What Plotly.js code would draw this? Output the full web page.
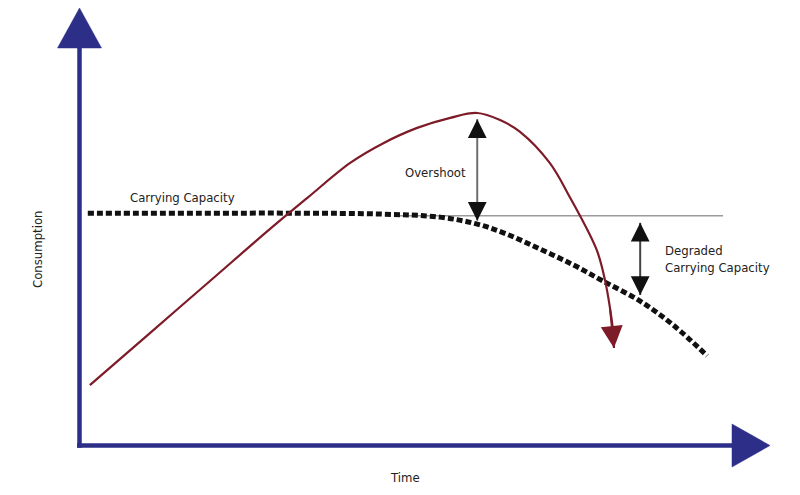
<!DOCTYPE html>
<html>
<head>
<meta charset="utf-8">
<script src="https://cdn.plot.ly/plotly-3.0.1.min.js"></script>
<style>html,body{margin:0;padding:0;background:#fff}#chart{width:800px;height:495px}</style>
</head>
<body>
<div id="chart"></div>
<script>
// Consumption curve (time, consumption)
var consumptionTime  = [1.5, 10.2, 18.9, 27.6, 33.0, 39.2, 44.0, 48.9, 53.7, 57.6, 60.9, 63.8, 68.1, 71.0, 74.9, 76.1, 76.8, 77.3, 77.4];
var consumptionValue = [13.8, 25.7, 37.6, 49.5, 56.6, 64.6, 69.1, 72.6, 74.9, 76.0, 74.4, 71.7, 64.6, 56.8, 44.7, 37.8, 31.7, 25.7, 22.3];

// Carrying capacity (time, capacity)
var capacityTime  = [1.2, 17.5, 31.9, 43.5, 52.2, 57.6, 61.9, 66.7, 71.5, 75.8, 81.2, 86.0, 90.9];
var capacityValue = [53.1, 53.1, 53.1, 52.9, 52.2, 50.6, 48.3, 44.9, 41.3, 37.6, 33.0, 27.5, 20.5];

// Original capacity reference level
var referenceTime  = [46.4, 93.2];
var referenceValue = [52.5, 52.5];

// Gap markers
var overshootTime = 57.6, overshootTop = 74.6, overshootBottom = 51.4;
var degradedTime = 81.2, degradedTop = 50.9, degradedBottom = 34.4;

// Labels
var axisLabels = {x: 'Time', y: 'Consumption'};
var labelCapacity = 'Carrying Capacity';
var labelOvershoot = 'Overshoot';
var labelDegraded = 'Degraded<br>Carrying Capacity';

var NAVY = '#2d2e88';
var RED = '#7d1b28';
var FONT = '"DejaVu Sans Condensed", "Liberation Sans Narrow", sans-serif';
var TXT = {family: FONT, size: 13, color: '#222'};

var traces = [
  {x: referenceTime, y: referenceValue, mode: 'lines', line: {color: '#9a9a9a', width: 1.5}, hoverinfo: 'skip'},
  {x: [overshootTime, overshootTime], y: [overshootTop, overshootBottom], mode: 'lines', line: {color: '#6e6e6e', width: 2}, hoverinfo: 'skip'},
  {x: [degradedTime, degradedTime], y: [degradedTop, degradedBottom], mode: 'lines', line: {color: '#444', width: 2}, hoverinfo: 'skip'},
  {x: capacityTime, y: capacityValue, mode: 'lines', line: {color: '#111', width: 5, dash: '6px,3px', shape: 'spline', smoothing: 1}, hoverinfo: 'skip'},
  {x: consumptionTime, y: consumptionValue, mode: 'lines', line: {color: RED, width: 2.2, shape: 'spline', smoothing: 1}, hoverinfo: 'skip'}
];

function head(x, y, ay) {
  return {x: x, y: y, xref: 'x', yref: 'y', ax: 0, ay: ay, text: '', showarrow: true,
          arrowhead: 2, arrowwidth: 1.5, arrowsize: 2.5, arrowcolor: '#111'};
}

var n = consumptionTime.length;
var annotations = [
  {x: consumptionTime[n-1], y: consumptionValue[n-1], ax: consumptionTime[n-3], ay: consumptionValue[n-3], axref: 'x', ayref: 'y', xref: 'x', yref: 'y', text: '', showarrow: true, arrowhead: 2, arrowwidth: 2, arrowsize: 2.2, arrowcolor: RED},
  head(overshootTime, overshootTop, 20),
  head(overshootTime, overshootBottom, -20),
  head(degradedTime, degradedTop, 20),
  head(degradedTime, degradedBottom, -20),
  {x: 14.85, y: 56.8, text: labelCapacity, showarrow: false, font: TXT},
  {x: 51.6, y: 62.5, text: labelOvershoot, showarrow: false, font: TXT},
  {x: 84.5, y: 42.6, text: labelDegraded, showarrow: false, xanchor: 'left', align: 'left', font: TXT},
  {x: -6.0, y: 44.7, text: axisLabels.y, textangle: -90, showarrow: false, font: TXT},
  {x: 47.1, y: -7.4, text: axisLabels.x, showarrow: false, font: TXT}
];

var shapes = [
  {type: 'line', xref: 'x', yref: 'y', x0: 0, y0: -0.5, x1: 0, y1: 95, line: {color: NAVY, width: 4.5}},
  {type: 'line', xref: 'x', yref: 'y', x0: -0.35, y0: 0, x1: 96, y1: 0, line: {color: NAVY, width: 4.5}},
  {type: 'path', xref: 'x', yref: 'y', xsizemode: 'pixel', ysizemode: 'pixel', xanchor: 0, yanchor: 100,
   path: 'M-22,-40 L22,-40 L0,0 Z', fillcolor: NAVY, line: {color: NAVY, width: 0.5}},
  {type: 'path', xref: 'x', yref: 'y', xsizemode: 'pixel', ysizemode: 'pixel', xanchor: 100, yanchor: 0,
   path: 'M-38,-21.5 L-38,21.5 L0,0 Z', fillcolor: NAVY, line: {color: NAVY, width: 0.5}}
];

var layout = {
  width: 800, height: 495,
  margin: {l: 0, r: 0, t: 0, b: 0},
  paper_bgcolor: '#fff', plot_bgcolor: '#fff',
  showlegend: false,
  xaxis: {range: [-11.513, 104.344], visible: false, fixedrange: true},
  yaxis: {range: [-11.314, 101.829], visible: false, fixedrange: true},
  shapes: shapes,
  annotations: annotations
};

Plotly.newPlot('chart', traces, layout, {displayModeBar: false, staticPlot: true});
</script>
</body>
</html>
